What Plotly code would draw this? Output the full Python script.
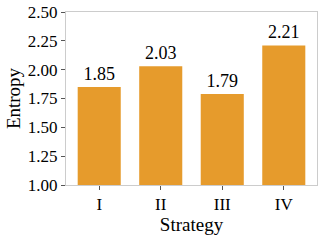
import plotly.graph_objects as go

categories = ["I", "II", "III", "IV"]
values = [1.85, 2.03, 1.79, 2.21]
labels = ["1.85", "2.03", "1.79", "2.21"]

fig = go.Figure(go.Bar(
    x=categories, y=values, text=labels, textposition="outside",
    marker=dict(color="#E69B2C", line=dict(width=0)),
    width=0.70, cliponaxis=False,
    textfont=dict(size=18, color="black"),
))
fig.update_layout(
    width=329, height=247,
    margin=dict(l=66, r=12, t=12, b=62),
    plot_bgcolor="white", paper_bgcolor="white",
    font=dict(family="Liberation Serif", size=18, color="black"),
    showlegend=False,
)
fig.update_xaxes(
    range=[-0.54, 3.54], showline=True, linecolor="#cccccc", mirror=True,
    ticks="outside", ticklen=4, tickcolor="#555555",
    title=dict(text="Strategy", font=dict(size=19), standoff=0),
    tickfont=dict(size=17), automargin=False,
)
fig.update_yaxes(
    range=[1.0, 2.5], tickvals=[1.0, 1.25, 1.5, 1.75, 2.0, 2.25, 2.5],
    ticktext=["1.00", "1.25", "1.50", "1.75", "2.00", "2.25", "2.50"],
    showline=True, linecolor="#cccccc", mirror=True, showgrid=False,
    ticks="outside", ticklen=4, tickcolor="#555555",
    title=dict(text="Entropy", font=dict(size=19), standoff=2),
    tickfont=dict(size=17), zeroline=False, automargin=False,
)
fig.write_html("out.html", config={"displayModeBar": False},
               post_script="document.body.style.margin='0';")
